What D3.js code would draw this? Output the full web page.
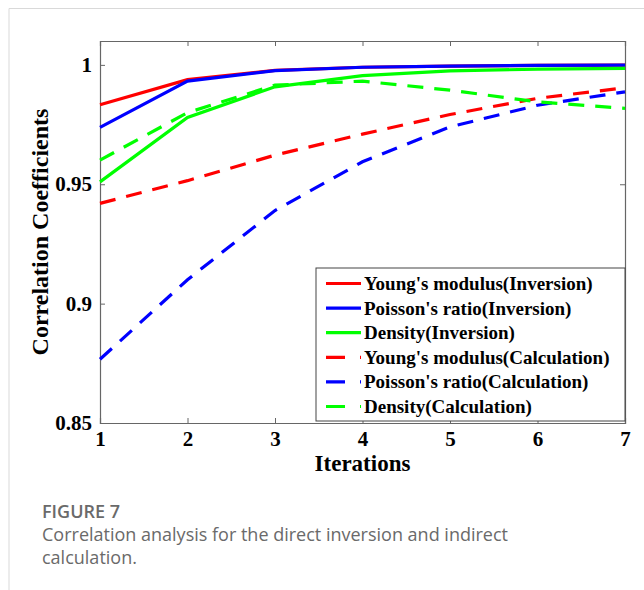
<!DOCTYPE html>
<html>
<head>
<meta charset="utf-8">
<script src="https://cdn.jsdelivr.net/npm/d3@7"></script>
<style>
  body { margin: 0; background: #fff; }
  svg { display: block; }
</style>
</head>
<body>
<div id="chart"></div>
<script>
// data
const iterations = [1, 2, 3, 4, 5, 6, 7];
const youngInv   = [0.9833, 0.9938, 0.9977, 0.9990, 0.9995, 0.9998, 0.9999];
const poissonInv = [0.9738, 0.9932, 0.9976, 0.9990, 0.9995, 0.9998, 0.9999];
const densityInv = [0.9510, 0.9780, 0.9908, 0.9955, 0.9975, 0.9982, 0.9985];
const youngCalc   = [0.9420, 0.9515, 0.9622, 0.9710, 0.9792, 0.9860, 0.9904];
const poissonCalc = [0.8767, 0.9100, 0.9390, 0.9594, 0.9740, 0.9831, 0.9887];
const densityCalc = [0.9601, 0.9800, 0.9915, 0.9932, 0.9894, 0.9845, 0.9818];
const yTicks = [0.85, 0.9, 0.95, 1];
const yTickLabels = ['0.85', '0.9', '0.95', '1'];

const seriesList = [
  {name: "Young's modulus(Inversion)",   values: youngInv,    color: '#ff0000', dashed: false},
  {name: "Poisson's ratio(Inversion)",   values: poissonInv,  color: '#0000ff', dashed: false},
  {name: "Density(Inversion)",           values: densityInv,  color: '#00ff00', dashed: false},
  {name: "Young's modulus(Calculation)", values: youngCalc,   color: '#ff0000', dashed: true},
  {name: "Poisson's ratio(Calculation)", values: poissonCalc, color: '#0000ff', dashed: true},
  {name: "Density(Calculation)",         values: densityCalc, color: '#00ff00', dashed: true}
];

const width = 644;
const height = 590;
const plotLeft = 100, plotRight = 625, plotTop = 41, plotBottom = 423;
const serif = '"Liberation Serif", "Times New Roman", serif';

const svg = d3.select('#chart').append('svg').attr('width', width).attr('height', height);
svg.append('rect').attr('width', width).attr('height', height).attr('fill', '#fff');

// card border
svg.append('path').attr('d', `M9,${height} L9,8.5 L${width},8.5`).attr('fill', 'none').attr('stroke', '#d9d9d9').attr('stroke-width', 1);

const x = d3.scaleLinear().domain([1, 7]).range([plotLeft, plotRight]);
const y = d3.scaleLinear().domain([0.85, 1.01]).range([plotBottom, plotTop]);

// axes (inward ticks on all sides)
const xAxis = svg.append('g').attr('transform', `translate(0,${plotBottom})`)
  .call(d3.axisBottom(x).tickValues(iterations).tickSize(-5).tickPadding(10).tickFormat(d3.format('d')));
const xTop = svg.append('g').attr('transform', `translate(0,${plotTop})`)
  .call(d3.axisTop(x).tickValues(iterations).tickSize(-5).tickFormat(''));
const yAxis = svg.append('g').attr('transform', `translate(${plotLeft},0)`)
  .call(d3.axisLeft(y).tickValues(yTicks).tickSize(-5).tickPadding(8).tickFormat((d, i) => yTickLabels[i]));
const yRight = svg.append('g').attr('transform', `translate(${plotRight},0)`)
  .call(d3.axisRight(y).tickValues(yTicks).tickSize(-5).tickFormat(''));

[xAxis, xTop, yAxis, yRight].forEach(g => {
  g.select('.domain').attr('stroke', '#666').attr('stroke-width', 1.2);
  g.selectAll('.tick line').attr('stroke', '#666');
  g.selectAll('text').attr('font-family', serif).attr('font-weight', 'bold').attr('font-size', '21px').attr('fill', '#000');
});
xAxis.selectAll('.tick text').attr('dy', '0.6em');
// the 1 and 0.85 ticks sit on the frame
xAxis.selectAll('.tick line').filter(d => d === 1 || d === 7).remove();
yAxis.selectAll('.tick line').filter(d => d === 0.85).remove();

// lines
const line = d3.line().x((d, i) => x(iterations[i])).y(d => y(d));
svg.append('g').selectAll('path').data(seriesList).enter().append('path')
  .attr('d', d => line(d.values))
  .attr('fill', 'none')
  .attr('stroke', d => d.color)
  .attr('stroke-width', 3.2)
  .attr('stroke-dasharray', d => d.dashed ? '16,11' : null);

// legend
const legX = 316, legY = 268, legW = 309, legH = 153, rowH = 24.6;
const legend = svg.append('g');
legend.append('rect').attr('x', legX).attr('y', legY).attr('width', legW).attr('height', legH)
  .attr('fill', '#fff').attr('stroke', '#444').attr('stroke-width', 1);
const rows = legend.selectAll('.row').data(seriesList).enter().append('g')
  .attr('transform', (d, i) => `translate(0,${legY + 15.5 + i * rowH})`);
rows.append('line').attr('x1', 326).attr('x2', 361).attr('y1', 0).attr('y2', 0)
  .attr('stroke', d => d.color).attr('stroke-width', 3.2)
  .attr('stroke-dasharray', d => d.dashed ? '19,15' : null);
rows.append('text').attr('x', 364).attr('y', 0).attr('dy', '0.34em')
  .attr('font-family', serif).attr('font-weight', 'bold').attr('font-size', '19px')
  .text(d => d.name);

// axis titles
svg.append('text').attr('x', (plotLeft + plotRight) / 2).attr('y', 471).attr('text-anchor', 'middle')
  .attr('font-family', serif).attr('font-weight', 'bold').attr('font-size', '23px').text('Iterations');
svg.append('text').attr('transform', `translate(48,${(plotTop + plotBottom) / 2}) rotate(-90)`).attr('text-anchor', 'middle')
  .attr('font-family', serif).attr('font-weight', 'bold').attr('font-size', '24px').text('Correlation Coefficients');

// caption
const sans = '"Open Sans", "Noto Sans", sans-serif';
svg.append('text').attr('x', 42).attr('y', 518).attr('font-family', sans).attr('font-weight', 600)
  .attr('font-size', '18px').attr('fill', '#6a6a6a').text('FIGURE 7');
svg.append('text').attr('x', 42).attr('y', 541).attr('font-family', sans)
  .attr('font-size', '18px').attr('fill', '#6a6a6a').text('Correlation analysis for the direct inversion and indirect');
svg.append('text').attr('x', 42).attr('y', 564).attr('font-family', sans)
  .attr('font-size', '18px').attr('fill', '#6a6a6a').text('calculation.');
</script>
</body>
</html>
